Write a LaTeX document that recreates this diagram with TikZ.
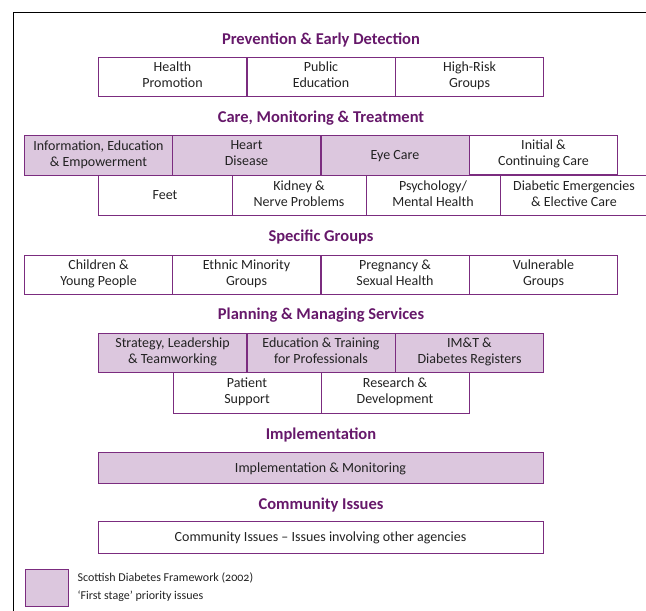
\documentclass[tikz,border=0pt]{standalone}
\usepackage{fontspec}
\setmainfont{Carlito}
\definecolor{sdfline}{HTML}{7B2C7F}
\definecolor{sdffill}{HTML}{DCC7DE}
\definecolor{sdftitle}{HTML}{66186A}
\definecolor{sdftext}{HTML}{222222}
\newcommand{\cellstrut}{\rule[-3pt]{0pt}{15.3pt}}
\begin{document}
\begin{tikzpicture}[
        x=1pt, y=-1pt,
        cell/.style={draw=sdfline, line width=0.8pt, inner sep=0pt, align=center,
            text=sdftext, font=\fontsize{14}{16}\selectfont,
            execute at begin node=\cellstrut, execute at end node=\cellstrut},
        prio/.style={cell, fill=sdffill},
        wide/.style={minimum width=148pt, minimum height=40pt},
        narrow/.style={minimum width=134pt, minimum height=40pt},
        heading/.style={text=sdftitle, font=\fontsize{16.5}{19}\selectfont\bfseries}
    ]
    \useasboundingbox (0,0) rectangle (646,611);
    % Frame
    \draw[line width=0.8pt] (13,611) -- (13,12) -- (646,12);
    % Prevention
    \node[heading] (prevT) at (321,40) {Prevention \& Early Detection};
    \node[cell, wide, minimum height=39pt] (health) at (172.5,76.5) {Health\\Promotion};
    \node[cell, wide, minimum height=39pt] (public) at (321,76.5) {Public\\Education};
    \node[cell, wide, minimum height=39pt] (risk) at (469.5,76.5) {High-Risk\\Groups};
    % Care, monitoring and treatment
    \node[heading] (careT) at (321,118) {Care, Monitoring \& Treatment};
    \node[prio, wide] (info) at (98.5,155) {Information, Education\\\& Empowerment};
    \node[prio, wide] (heart) at (246.5,155) {Heart\\Disease};
    \node[prio, wide] (eye) at (395,155) {Eye Care};
    \node[cell, wide, minimum height=39pt] (initial) at (543.5,154.5) {Initial \&\\Continuing Care};
    \node[cell, narrow] (feet) at (165,195) {Feet};
    \node[cell, narrow] (kidney) at (299,195) {Kidney \&\\Nerve Problems};
    \node[cell, narrow] (psych) at (433,195) {Psychology/\\Mental Health};
    \node[cell, minimum width=148pt, minimum height=40pt] (emerg) at (574,195) {Diabetic Emergencies\\\& Elective Care};
    % Specific groups
    \node[heading] (groupT) at (321,237) {Specific Groups};
    \node[cell, wide, minimum height=39pt] (child) at (98.5,274.5) {Children \&\\Young People};
    \node[cell, wide, minimum height=39pt] (ethnic) at (246.5,274.5) {Ethnic Minority\\Groups};
    \node[cell, wide, minimum height=39pt] (preg) at (395,274.5) {Pregnancy \&\\Sexual Health};
    \node[cell, wide, minimum height=39pt] (vuln) at (543.5,274.5) {Vulnerable\\Groups};
    % Planning and managing services
    \node[heading] (planT) at (321,315) {Planning \& Managing Services};
    \node[prio, wide, minimum height=39pt] (strat) at (172.5,352.5) {Strategy, Leadership\\\& Teamworking};
    \node[prio, wide, minimum height=39pt] (train) at (321,352.5) {Education \& Training\\for Professionals};
    \node[prio, wide, minimum height=39pt] (imt) at (469.5,352.5) {IM\&T \&\\Diabetes Registers};
    \node[cell, wide, minimum height=41pt] (patient) at (247,392.5) {Patient\\Support};
    \node[cell, wide, minimum height=41pt] (research) at (395,392.5) {Research \&\\Development};
    % Implementation
    \node[heading] (implT) at (321,435) {Implementation};
    \node[prio, minimum width=445pt, minimum height=31pt] (impl) at (320.5,467.5) {Implementation \& Monitoring};
    % Community issues
    \node[heading] (commT) at (321,505) {Community Issues};
    \node[cell, minimum width=445pt, minimum height=32pt] (comm) at (320.5,537) {Community Issues -- Issues involving other agencies};
    % Legend
    \node[prio, minimum width=43pt, minimum height=37pt] (key) at (46.5,587.5) {};
    \node[anchor=west, align=left, text=sdftext, inner sep=0pt,
        font=\fontsize{12}{18}\selectfont\addfontfeatures{Numbers=OldStyle}]
        (keyT) at ([xshift=9pt]key.east) {Scottish Diabetes Framework (2002)\\`First stage' priority issues};
\end{tikzpicture}
\end{document}
